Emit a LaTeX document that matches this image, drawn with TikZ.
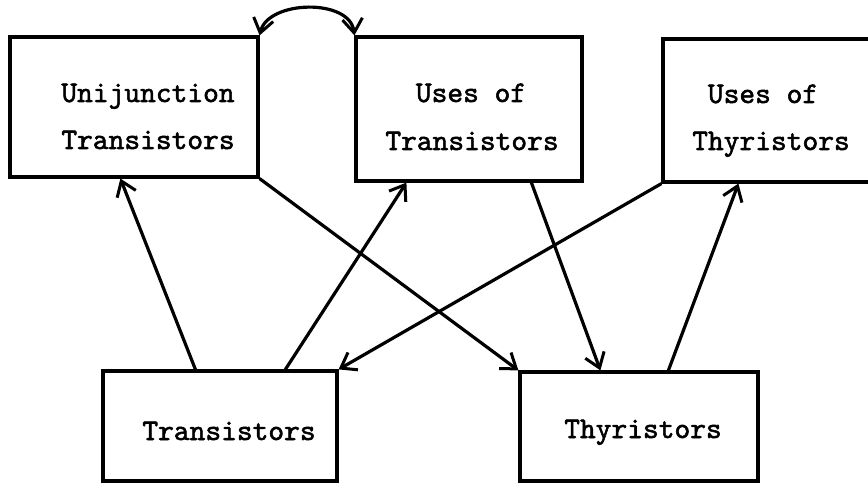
\documentclass[tikz,border=0pt]{standalone}
\usepackage{fontspec}
\newfontfamily\twfont{lmmono10-regular.otf}[FakeBold=1.8]
\usetikzlibrary{arrows.meta}
\begin{document}
\begin{tikzpicture}[x=1pt,y=-1pt,
  box/.style={draw,line width=3.2pt,inner sep=0pt,minimum width=#1},
  lbl/.style={font=\twfont\fontsize{30}{36}\selectfont,anchor=base,inner sep=0pt},
  conn/.style={line width=3.2pt,-{Straight Barb[length=14pt,width=20pt,line width=3pt]}},
  conn2/.style={line width=3.2pt,{Straight Barb[length=14pt,width=20pt,line width=3pt]}-{Straight Barb[length=14pt,width=20pt,line width=3pt]}}]
\useasboundingbox (0,0) rectangle (868,484);
\node[box=248pt,minimum height=140pt] (A) at (134,107) {};
\node[box=226pt,minimum height=144pt] (B) at (469,109) {};
\node[box=227pt,minimum height=143pt] (C) at (776.5,110.5) {};
\node[box=234pt,minimum height=110pt] (D) at (220,426) {};
\node[box=238pt,minimum height=109pt] (E) at (639,426.5) {};
\node[lbl] (A1) at (148,102) {Unijunction};
\node[lbl] (A2) at (148,149) {Transistors};
\node[lbl] (B1) at (471,102) {Uses of};
\node[lbl] (B2) at (472,150) {Transistors};
\node[lbl] (C1) at (763,103) {Uses of};
\node[lbl] (C2) at (771,150) {Thyristors};
\node[lbl] (D1) at (229,440) {Transistors};
\node[lbl] (E1) at (643,438) {Thyristors};
\draw[conn] ([xshift=94pt]D.north west) -- ([xshift=112pt]A.south west);
\draw[conn] ([xshift=184pt]D.north west) -- ([xshift=52pt]B.south west);
\draw[conn] (C.south west) -- (D.north east);
\draw[conn] (A.south east) -- (E.north west);
\draw[conn] ([xshift=177pt]B.south west) -- ([xshift=82pt]E.north west);
\draw[conn] ([xshift=150pt]E.north west) -- ([xshift=77pt]C.south west);
\draw[conn2] (A.north east) .. controls (268,0) and (350,-2) .. (B.north west);
\end{tikzpicture}
\end{document}
